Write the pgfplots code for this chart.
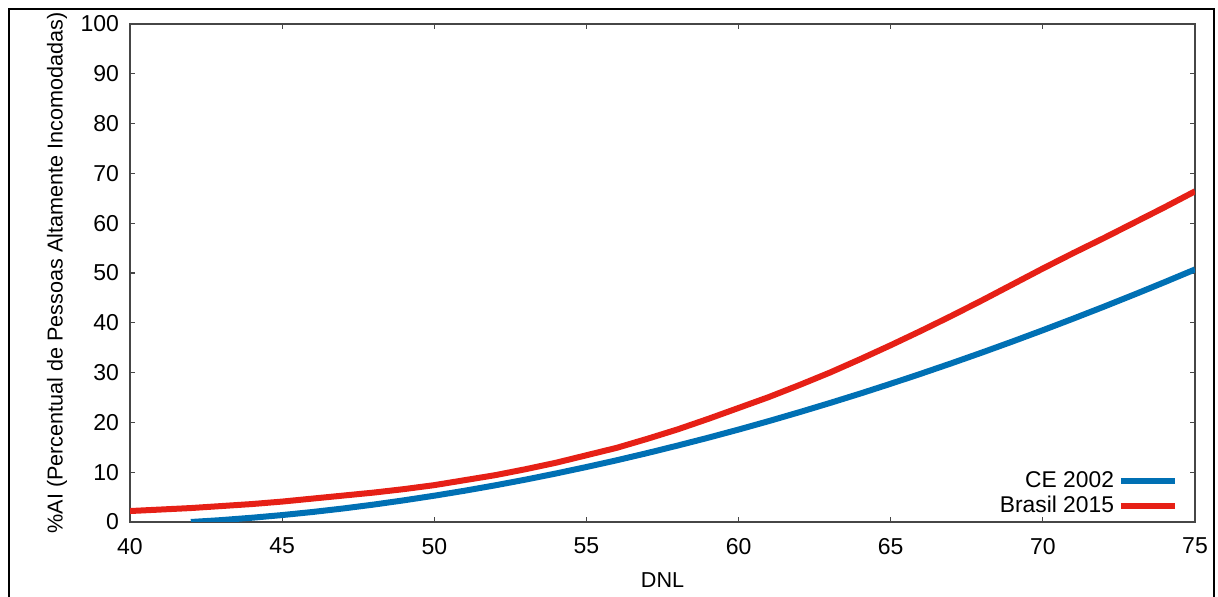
\documentclass[border=0pt]{standalone}
\usepackage{fontspec}
\setmainfont{Liberation Sans}
\usepackage{pgfplots}
\pgfplotsset{compat=1.18}
\definecolor{ceblue}{RGB}{0,112,180}
\definecolor{brred}{RGB}{230,32,22}
\definecolor{axgray}{RGB}{70,70,70}
\begin{document}
\begin{tikzpicture}
\path[use as bounding box] (0,0) rectangle (609pt,298.5pt);
\draw[black,line width=1.1pt] (4.5pt,-2pt) -- (4.5pt,294pt) -- (607pt,294pt) -- (607pt,-2pt);
\begin{axis}[
  at={(65pt,37.5pt)}, anchor=south west,
  scale only axis, width=532.5pt, height=249pt,
  xmin=40, xmax=75, ymin=0, ymax=100,
  xtick={40,45,...,75}, ytick={0,10,...,100},
  tick align=inside, major tick length=2.5pt,
  axis line style={axgray, line width=0.6pt},
  every tick/.style={axgray, line width=0.6pt},
  tick label style={font=\fontsize{11.5}{13}\selectfont},
  /pgf/number format/assume math mode=true,
  xticklabel style={yshift=-4.5pt},
  yticklabel style={xshift=-2pt},
  label style={font=\fontsize{10.8}{13}\selectfont},
  xlabel={DNL},
  xlabel style={at={(axis description cs:0.5,-0.1165)}, anchor=center},
  ylabel={\%AI (Percentual de Pessoas Altamente Incomodadas)},
  ylabel style={at={(axis description cs:-0.0685,0.5)}, anchor=center},
  legend style={at={(axis description cs:0.99,-0.004)}, anchor=south east, draw=none, fill=none,
    font=\fontsize{11.4}{12.5}\selectfont, row sep=-1pt},
  legend cell align=right,
  legend plot pos=right,
  legend image code/.code={\draw[#1] (0pt,0pt) -- (27pt,0pt);},
]
\addplot[ceblue, line width=3pt] coordinates {
(42,0.00) (43,0.38) (44,0.85) (45,1.39) (46,2.01) (47,2.71) (48,3.49) (49,4.35)
(50,5.28) (51,6.28) (52,7.36) (53,8.51) (54,9.74) (55,11.04) (56,12.40) (57,13.84)
(58,15.35) (59,16.92) (60,18.56) (61,20.27) (62,22.05) (63,23.89) (64,25.79)
(65,27.76) (66,29.79) (67,31.88) (68,34.03) (69,36.24) (70,38.51) (71,40.84)
(72,43.22) (73,45.66) (74,48.16) (75,50.71)
};
\addlegendentry{CE 2002}
\addplot[brred, line width=3pt] coordinates {
(40,2.2) (41,2.5) (42,2.8) (43,3.2) (44,3.6) (45,4.1) (46,4.7) (47,5.3) (48,5.9)
(49,6.6) (50,7.4) (51,8.4) (52,9.4) (53,10.6) (54,11.9) (55,13.4) (56,14.9)
(57,16.7) (58,18.6) (59,20.7) (60,22.9) (61,25.1) (62,27.5) (63,30.0) (64,32.7)
(65,35.5) (66,38.4) (67,41.4) (68,44.5) (69,47.7) (70,50.9) (71,54.0) (72,57.0)
(73,60.1) (74,63.2) (75,66.4)
};
\addlegendentry{Brasil 2015}
\end{axis}
\end{tikzpicture}
\end{document}
